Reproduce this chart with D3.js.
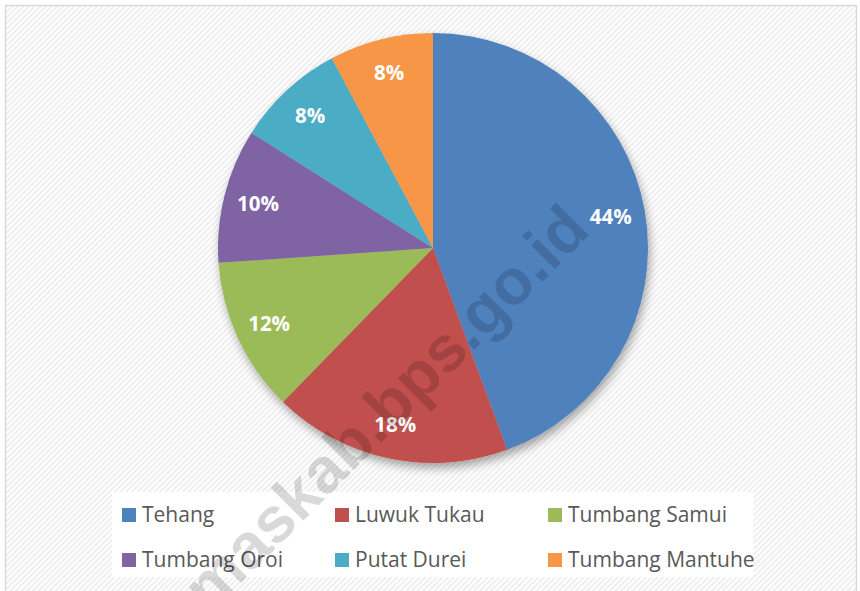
<!DOCTYPE html>
<html lang="id">
  <head>
    <meta charset="UTF-8" />
    <script src="https://d3js.org/d3.v7.min.js"></script>
    <title>Pie chart</title>
    <style>
      body { margin: 0; background: #fff; }
    </style>
  </head>
  <body>
    <svg id="chart" width="860" height="591"></svg>
  </body>
  <script>
    // data
    var villages = ["Tehang", "Luwuk Tukau", "Tumbang Samui", "Tumbang Oroi", "Putat Durei", "Tumbang Mantuhe"];
    var shares = [44.4, 17.9, 11.6, 10.1, 8.2, 7.8];
    var colors = ["#4F81BD", "#C0504D", "#9BBB59", "#8064A2", "#4BACC6", "#F79646"];

    var svg = d3.select("#chart"),
      width = +svg.attr("width"),
      height = +svg.attr("height");

    var defs = svg.append("defs");

    // diagonal hatch of the chart area
    var pat = defs.append("pattern")
      .attr("id", "hatch")
      .attr("patternUnits", "userSpaceOnUse")
      .attr("width", 4)
      .attr("height", 4)
      .attr("patternTransform", "rotate(45)");
    pat.append("rect").attr("width", 4).attr("height", 4).attr("fill", "#ffffff");
    pat.append("rect").attr("width", 2).attr("height", 4).attr("fill", "#efefef");

    // soft shadow under the pie
    var shadow = defs.append("filter")
      .attr("id", "shadow")
      .attr("x", "-20%").attr("y", "-20%")
      .attr("width", "140%").attr("height", "140%");
    shadow.append("feDropShadow")
      .attr("dx", 2)
      .attr("dy", 5)
      .attr("stdDeviation", 5)
      .attr("flood-color", "#000")
      .attr("flood-opacity", 0.35);

    // chart area with border
    svg.append("rect")
      .attr("x", 5.5)
      .attr("y", 5.5)
      .attr("width", 851)
      .attr("height", 600)
      .attr("fill", "url(#hatch)")
      .attr("stroke", "#d9d9d9")
      .attr("stroke-width", 1.5);

    // pie
    var cx = 433, cy = 248, radius = 215;

    var pie = d3.pie().sort(null).value(function (d) { return d; });
    var arcs = pie(shares);
    var arc = d3.arc().innerRadius(0).outerRadius(radius);
    var labelArc = d3.arc().innerRadius(radius * 0.84).outerRadius(radius * 0.84);

    var g = svg.append("g").attr("transform", "translate(" + cx + "," + cy + ")");

    g.append("g")
      .attr("filter", "url(#shadow)")
      .selectAll("path")
      .data(arcs)
      .enter()
      .append("path")
      .attr("d", arc)
      .attr("fill", function (d, i) { return colors[i]; });

    g.selectAll("text.pct")
      .data(arcs)
      .enter()
      .append("text")
      .attr("class", "pct")
      .attr("transform", function (d) { return "translate(" + labelArc.centroid(d) + ")"; })
      .attr("text-anchor", "middle")
      .attr("dy", "0.36em")
      .style("font-family", "'Open Sans', sans-serif")
      .style("font-weight", "bold")
      .style("font-size", "20.5px")
      .style("fill", "#ffffff")
      .text(function (d) { return Math.round(d.data) + "%"; });

    // legend
    svg.append("rect")
      .attr("x", 112)
      .attr("y", 492)
      .attr("width", 641)
      .attr("height", 85)
      .attr("fill", "#ffffff");

    var colX = [122, 335, 548], rowY = [508, 553];

    var legend = svg.append("g")
      .selectAll("g")
      .data(villages)
      .enter()
      .append("g")
      .attr("transform", function (d, i) {
        return "translate(" + colX[i % 3] + "," + rowY[Math.floor(i / 3)] + ")";
      });

    legend.append("rect")
      .attr("width", 14)
      .attr("height", 14)
      .attr("fill", function (d, i) { return colors[i]; });

    legend.append("text")
      .attr("x", 20)
      .attr("y", 14)
      .style("font-family", "'Open Sans', sans-serif")
      .style("font-size", "21px")
      .style("fill", "#595959")
      .text(function (d) { return d; });

    // watermark
    svg.append("text")
      .attr("transform", "translate(592,232) rotate(-45)")
      .attr("text-anchor", "end")
      .style("font-family", "'Liberation Sans', Arial, sans-serif")
      .style("font-weight", "bold")
      .style("font-size", "64px")
      .style("fill", "#000")
      .style("fill-opacity", 0.15)
      .text("gunungmaskab.bps.go.id");
  </script>
</html>
